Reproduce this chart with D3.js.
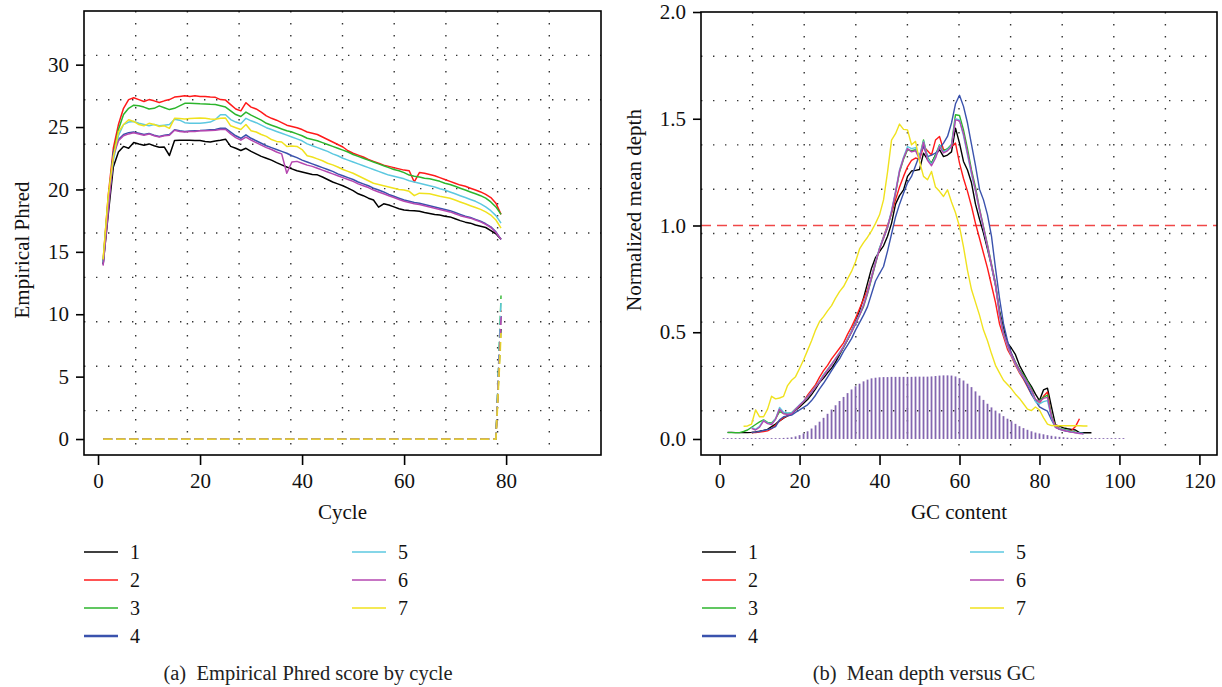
<!DOCTYPE html>
<html><head><meta charset="utf-8">
<script src="https://cdn.jsdelivr.net/npm/d3@7/dist/d3.min.js"></script>
<style>
body{margin:0;background:#fff}
svg{display:block}
</style>
</head><body>
<svg id="chart" width="1222" height="687"></svg>
<script>
// ---------------- DATA ----------------
const seriesNames = ["1","2","3","4","5","6","7"];
const seriesColors = ["#000000","#ff1a1a","#2cb52c","#3a52ad","#5cc8e0","#b547b0","#f0e21e"];

// Panel (a): Empirical Phred by cycle (cycle 1..79)
const phred1 = [14.0,18.0,21.8,23.0,23.45,23.3,23.76,23.65,23.55,23.65,
23.5,23.38,23.4,22.72,23.93,23.95,23.95,23.95,23.93,23.93,
23.85,23.8,23.88,23.95,24.03,23.45,23.3,23.12,23.3,23.05,
22.85,22.65,22.5,22.35,22.15,21.97,21.8,21.65,21.5,21.4,
21.3,21.2,21.17,21.0,20.8,20.6,20.45,20.3,20.1,19.9,
19.65,19.5,19.3,19.15,18.58,18.85,18.75,18.6,18.45,18.36,
18.32,18.3,18.25,18.15,18.08,18.0,17.95,17.85,17.8,17.65,
17.5,17.38,17.3,17.15,17.05,16.95,16.7,16.45,16.0];
const phred2 = [14.3,19.5,23.3,25.2,26.5,27.2,27.35,27.2,27.05,27.2,
27.1,26.97,27.1,27.2,27.4,27.45,27.5,27.45,27.5,27.45,
27.45,27.4,27.38,27.2,27.16,26.8,26.45,26.3,26.95,26.6,
26.45,26.2,25.9,25.7,25.55,25.35,25.15,25.05,24.95,24.8,
24.6,24.5,24.4,24.2,24.0,23.8,23.6,23.4,23.1,22.9,
22.75,22.6,22.4,22.25,22.1,21.95,21.85,21.75,21.65,21.55,
21.5,20.6,21.35,21.3,21.2,21.1,20.95,20.8,20.65,20.5,
20.35,20.25,20.1,19.95,19.8,19.6,19.35,18.9,18.0];
const phred3 = [14.2,19.2,22.8,24.8,26.0,26.5,26.75,26.7,26.6,26.45,
26.5,26.7,26.55,26.4,26.5,26.7,26.9,26.9,26.88,26.86,
26.85,26.82,26.8,26.7,26.6,26.3,26.0,25.85,26.2,25.95,
25.75,25.55,25.3,25.15,25.0,24.85,24.7,24.6,24.45,24.3,
24.1,24.0,23.9,23.75,23.6,23.45,23.3,23.15,23.0,22.8,
22.65,22.5,22.35,22.2,22.05,21.9,21.75,21.6,21.5,21.35,
21.15,21.05,21.0,20.9,20.85,20.75,20.65,20.5,20.4,20.25,
20.1,19.95,19.8,19.65,19.5,19.3,19.0,18.6,18.0];
const phred4 = [14.0,18.5,23.0,24.0,24.4,24.55,24.6,24.5,24.4,24.48,
24.35,24.25,24.35,24.4,24.78,24.7,24.65,24.68,24.7,24.72,
24.75,24.78,24.8,24.9,24.9,24.6,24.3,24.1,24.38,24.1,
23.9,23.7,23.5,23.35,23.2,23.05,22.9,22.7,22.55,22.35,
22.2,22.05,21.9,21.75,21.6,21.45,21.25,21.1,20.95,20.8,
20.6,20.45,20.3,20.1,19.95,19.8,19.6,19.45,19.3,19.15,
19.05,18.95,18.9,18.8,18.7,18.6,18.5,18.4,18.3,18.15,
18.0,17.85,17.75,17.6,17.45,17.25,17.0,16.6,16.0];
const phred5 = [14.2,19.0,22.3,24.3,25.2,25.4,25.45,25.3,25.2,25.1,
25.2,25.1,25.15,25.2,25.63,25.55,25.35,25.3,25.3,25.3,
25.35,25.4,25.6,25.98,25.98,25.6,25.4,25.26,25.7,25.5,
25.35,25.15,24.95,24.8,24.65,24.5,24.35,24.2,24.05,23.9,
23.65,23.5,23.35,23.2,23.05,22.85,22.7,22.5,22.35,22.2,
22.05,21.9,21.75,21.6,21.45,21.3,21.15,21.05,20.95,20.85,
20.7,20.6,20.5,20.4,20.3,20.2,20.05,19.95,19.8,19.65,
19.5,19.35,19.2,19.05,18.85,18.6,18.3,17.9,17.3];
const phred6 = [13.9,18.3,22.7,23.9,24.3,24.45,24.55,24.45,24.35,24.45,
24.3,24.2,24.3,24.35,24.75,24.65,24.6,24.65,24.65,24.7,
24.7,24.72,24.75,24.8,24.8,24.45,24.15,23.95,24.2,23.95,
23.75,23.55,23.35,23.2,23.0,22.85,21.3,22.2,22.25,22.1,
21.95,21.85,21.7,21.55,21.4,21.25,21.1,20.95,20.8,20.65,
20.45,20.3,20.15,19.95,19.8,19.65,19.5,19.35,19.2,19.05,
18.95,18.85,18.8,18.7,18.6,18.5,18.4,18.3,18.2,18.05,
17.9,17.8,17.7,17.55,17.4,17.2,16.95,16.55,16.0];
const phred7 = [14.4,19.5,22.6,24.6,25.2,25.58,25.45,25.2,25.1,25.3,
25.2,25.05,25.1,24.9,25.7,25.68,25.65,25.68,25.7,25.72,
25.7,25.65,25.62,25.7,25.72,25.1,24.95,24.8,25.2,24.7,
24.6,24.4,24.25,24.0,23.85,23.8,23.45,23.48,23.45,23.2,
22.7,22.6,22.45,22.3,22.1,21.97,21.8,21.6,21.45,21.3,
21.1,20.9,20.7,20.5,20.4,20.3,20.2,20.1,20.0,19.95,
19.85,19.5,19.7,19.68,19.65,19.55,19.45,19.38,19.3,19.15,
19.0,18.85,18.7,18.55,18.4,18.2,17.95,17.55,16.9];
// dashed companion series: 0 for cycles 1..78, then these values at cycle 79
const dashedLastCycle = 79;
const dashedEndValues = [9.0,10.3,11.5,10.0,11.2,9.8,8.5];

// Panel (b): normalized mean depth vs GC content
const depthStart = [2,8,2,8,8,8,6];
const depth1 = [0.031,0.031,0.030,0.030,0.030,0.030,0.031,0.033,0.036,0.040,
0.045,0.058,0.070,0.085,0.098,0.108,0.118,0.135,0.150,0.168,
0.185,0.208,0.235,0.265,0.285,0.310,0.332,0.360,0.395,0.430,
0.465,0.505,0.550,0.600,0.660,0.730,0.800,0.850,0.878,0.905,
0.950,1.010,1.100,1.140,1.167,1.230,1.255,1.258,1.262,1.339,
1.310,1.292,1.330,1.355,1.323,1.330,1.345,1.456,1.386,1.300,
1.260,1.200,1.100,1.030,0.964,0.890,0.810,0.720,0.600,0.520,
0.450,0.425,0.395,0.345,0.310,0.275,0.245,0.210,0.180,0.230,
0.238,0.150,0.066,0.060,0.052,0.048,0.045,0.042,0.030,0.029,
0.029,0.029];
const depth2 = [0.030,0.030,0.032,0.035,0.038,0.048,0.065,0.085,0.100,0.108,
0.120,0.140,0.155,0.175,0.205,0.230,0.255,0.290,0.320,0.345,
0.375,0.400,0.425,0.450,0.490,0.525,0.565,0.610,0.655,0.700,
0.760,0.830,0.890,0.948,1.000,1.057,1.120,1.180,1.230,1.275,
1.305,1.316,1.310,1.370,1.350,1.330,1.400,1.417,1.355,1.355,
1.370,1.386,1.292,1.220,1.160,1.090,1.010,0.940,0.870,0.800,
0.720,0.640,0.540,0.480,0.420,0.385,0.345,0.310,0.280,0.245,
0.210,0.180,0.165,0.200,0.220,0.100,0.065,0.050,0.042,0.038,
0.040,0.058,0.095];
const depth3 = [0.030,0.030,0.030,0.030,0.035,0.042,0.055,0.068,0.080,0.090,
0.078,0.075,0.095,0.128,0.120,0.120,0.123,0.140,0.158,0.175,
0.195,0.218,0.245,0.270,0.300,0.325,0.350,0.375,0.400,0.430,
0.465,0.500,0.540,0.580,0.620,0.680,0.750,0.820,0.893,0.940,
0.990,1.060,1.150,1.250,1.310,1.355,1.350,1.355,1.320,1.401,
1.320,1.290,1.330,1.378,1.350,1.360,1.380,1.519,1.515,1.448,
1.360,1.260,1.180,1.080,0.995,0.910,0.820,0.730,0.590,0.500,
0.445,0.400,0.360,0.325,0.300,0.270,0.235,0.180,0.180,0.195,
0.205,0.110,0.058,0.050,0.045,0.040,0.036,0.032,0.028,0.026];
const depth4 = [0.031,0.032,0.035,0.040,0.044,0.050,0.058,0.090,0.104,0.108,
0.112,0.125,0.136,0.148,0.160,0.180,0.205,0.235,0.261,0.290,
0.320,0.350,0.375,0.410,0.440,0.470,0.510,0.545,0.580,0.620,
0.680,0.740,0.775,0.808,0.880,0.960,1.040,1.100,1.151,1.200,
1.230,1.280,1.330,1.370,1.323,1.330,1.339,1.360,1.386,1.417,
1.480,1.570,1.610,1.558,1.480,1.380,1.280,1.170,1.120,1.050,
0.950,0.800,0.660,0.540,0.460,0.400,0.355,0.320,0.285,0.250,
0.210,0.180,0.150,0.140,0.130,0.090,0.055,0.045,0.040,0.036,
0.032,0.030,0.028,0.026];
const depth5 = [0.055,0.045,0.060,0.088,0.075,0.070,0.095,0.148,0.125,0.122,
0.122,0.140,0.160,0.178,0.198,0.220,0.245,0.270,0.300,0.325,
0.350,0.378,0.405,0.435,0.470,0.505,0.545,0.585,0.630,0.690,
0.760,0.830,0.895,0.945,0.995,1.070,1.160,1.260,1.320,1.370,
1.360,1.365,1.320,1.395,1.315,1.285,1.320,1.375,1.345,1.355,
1.375,1.500,1.495,1.420,1.330,1.240,1.160,1.070,0.985,0.900,
0.810,0.720,0.580,0.490,0.435,0.390,0.350,0.315,0.290,0.260,
0.225,0.175,0.165,0.175,0.180,0.100,0.055,0.048,0.043,0.038,
0.034,0.030,0.027,0.025];
const depth6 = [0.050,0.042,0.055,0.085,0.072,0.068,0.092,0.140,0.118,0.115,
0.118,0.138,0.158,0.176,0.196,0.218,0.243,0.268,0.296,0.322,
0.348,0.375,0.402,0.432,0.466,0.500,0.540,0.580,0.625,0.685,
0.755,0.825,0.890,0.940,0.990,1.065,1.155,1.255,1.315,1.360,
1.345,1.350,1.310,1.390,1.305,1.280,1.315,1.370,1.340,1.350,
1.370,1.495,1.490,1.430,1.340,1.250,1.165,1.075,0.990,0.905,
0.815,0.725,0.585,0.495,0.440,0.395,0.355,0.320,0.292,0.262,
0.228,0.185,0.175,0.190,0.195,0.105,0.055,0.046,0.041,0.036,
0.032,0.029,0.026,0.024];
const depth7 = [0.060,0.061,0.070,0.136,0.104,0.104,0.140,0.200,0.188,0.192,
0.200,0.250,0.275,0.292,0.330,0.370,0.415,0.460,0.510,0.550,
0.573,0.600,0.625,0.660,0.690,0.714,0.750,0.785,0.830,0.890,
0.920,0.945,0.975,1.010,1.050,1.120,1.250,1.400,1.430,1.475,
1.450,1.448,1.378,1.394,1.300,1.230,1.214,1.253,1.180,1.160,
1.136,1.167,1.110,1.060,0.995,0.900,0.790,0.700,0.640,0.580,
0.510,0.460,0.400,0.345,0.310,0.275,0.255,0.235,0.210,0.190,
0.165,0.140,0.133,0.150,0.136,0.100,0.070,0.063,0.062,0.062,
0.062,0.062,0.062,0.062,0.062,0.061,0.061];
// GC distribution histogram, GC 1..101
const gcHist = [0.004,0.004,0.004,0.004,0.004,0.004,0.004,0.004,0.004,0.004,
0.004,0.004,0.004,0.004,0.004,0.005,0.006,0.008,0.012,0.018,
0.026,0.036,0.049,0.064,0.081,0.099,0.118,0.138,0.158,0.178,
0.197,0.215,0.232,0.247,0.259,0.270,0.278,0.284,0.287,0.289,
0.290,0.290,0.291,0.291,0.291,0.291,0.291,0.291,0.292,0.292,
0.292,0.292,0.293,0.295,0.297,0.298,0.298,0.297,0.293,0.285,
0.274,0.259,0.243,0.223,0.203,0.183,0.165,0.148,0.133,0.120,
0.107,0.095,0.083,0.071,0.060,0.051,0.043,0.036,0.030,0.026,
0.022,0.018,0.015,0.012,0.010,0.008,0.006,0.005,0.004,0.004,
0.004,0.004,0.004,0.004,0.004,0.004,0.004,0.004,0.004,0.004,0.004];
const depthRefLine = 1.0;

// Axis ticks / limits / labels
const xTicksA = [0,20,40,60,80];
const yTicksA = [0,5,10,15,20,25,30];
const xLimA = [-2.75, 98.6];
const yLimA = [-1.28, 34.3];
const xTicksB = [0,20,40,60,80,100,120];
const yTicksB = [0,0.5,1.0,1.5,2.0];
const xLimB = [-4.65, 124.4];
const yLimB = [-0.075, 2.0];
const titlesA = {x:"Cycle", y:"Empirical Phred", caption:"(a)\u00a0\u00a0Empirical Phred score by cycle"};
const titlesB = {x:"GC content", y:"Normalized mean depth", caption:"(b)\u00a0\u00a0Mean depth versus GC"};

// ---------------- DRAW ----------------
const FONT = "'Liberation Serif','DejaVu Serif',serif";
const svg = d3.select("#chart");
svg.append("rect").attr("width",1222).attr("height",687).attr("fill","#fff");

function drawPanel(cfg){
  const {frame, xLim, yLim, xTicks, yTicks, yFmt} = cfg;
  const x = d3.scaleLinear().domain(xLim).range([frame.x0, frame.x1]);
  const y = d3.scaleLinear().domain(yLim).range([frame.y1, frame.y0]);
  const g = svg.append("g");
  const grid = g.append("g").attr("stroke","#333").attr("stroke-width",1.4)
    .attr("stroke-dasharray","1.4,10.6");
  for (let i=1;i<10;i++){
    const gx = frame.x0 + i*(frame.x1-frame.x0)/10;
    const gy = frame.y0 + i*(frame.y1-frame.y0)/10;
    grid.append("line").attr("x1",gx).attr("x2",gx).attr("y1",frame.y0).attr("y2",frame.y1);
    grid.append("line").attr("y1",gy).attr("y2",gy).attr("x1",frame.x0).attr("x2",frame.x1);
  }
  const ax = g.append("g").attr("transform",`translate(0,${frame.y1})`)
    .call(d3.axisBottom(x).tickValues(xTicks).tickSize(10).tickPadding(8).tickFormat(d3.format("d")));
  const ay = g.append("g").attr("transform",`translate(${frame.x0},0)`)
    .call(d3.axisLeft(y).tickValues(yTicks).tickSize(8).tickPadding(7).tickFormat(yFmt));
  [ax,ay].forEach(a=>{
    a.select(".domain").remove();
    a.selectAll("line").attr("stroke","#000").attr("stroke-width",1.6);
    a.selectAll("text").attr("font-family",FONT).attr("font-size",21).attr("fill","#111");
  });
  return {g,x,y};
}

function frameBox(g, frame){
  g.append("rect").attr("x",frame.x0).attr("y",frame.y0)
    .attr("width",frame.x1-frame.x0).attr("height",frame.y1-frame.y0)
    .attr("fill","none").attr("stroke","#000").attr("stroke-width",1.6);
}

function titles(g, frame, t, yTitlePos, capX){
  g.append("text").attr("x",(frame.x0+frame.x1)/2).attr("y",519)
    .attr("text-anchor","middle").attr("font-family",FONT).attr("font-size",21).attr("fill","#111").text(t.x);
  g.append("text").attr("transform",`translate(${yTitlePos[0]},${yTitlePos[1]}) rotate(-90)`)
    .attr("text-anchor","middle").attr("font-family",FONT).attr("font-size",21).attr("fill","#111").text(t.y);
  g.append("text").attr("x",capX).attr("y",680)
    .attr("text-anchor","middle").attr("font-family",FONT).attr("font-size",20.5).attr("fill","#222").text(t.caption);
}

function legend(g, col1x, col2x){
  const rows = [552,580,608,636];
  seriesNames.forEach((n,i)=>{
    const cx = i<4 ? col1x : col2x;
    const ry = i<4 ? rows[i] : rows[i-4];
    g.append("line").attr("x1",cx).attr("x2",cx+34).attr("y1",ry).attr("y2",ry)
      .attr("stroke",seriesColors[i]).attr("stroke-width", i===3?2.6:1.6);
    g.append("text").attr("x",cx+46).attr("y",ry).attr("dy","0.33em")
      .attr("font-family",FONT).attr("font-size",20).attr("fill","#111").text(n);
  });
}

// ---- Panel A ----
const frameA = {x0:84, x1:601, y0:11, y1:455};
const A = drawPanel({frame:frameA, xLim:xLimA, yLim:yLimA, xTicks:xTicksA, yTicks:yTicksA, yFmt:d3.format("d")});
const phredSeries = [phred1,phred2,phred3,phred4,phred5,phred6,phred7];
const lineA = d3.line().x(d=>A.x(d[0])).y(d=>A.y(d[1]));
phredSeries.forEach((s,i)=>{
  const pts = s.map((v,k)=>[k+1, k+1===dashedLastCycle ? dashedEndValues[i] : 0]);
  A.g.append("path").attr("d",lineA(pts)).attr("fill","none")
    .attr("stroke",seriesColors[i]).attr("stroke-width",i===6?1.8:1.4)
    .attr("stroke-dasharray","9,4").attr("opacity",i===6?0.85:1);
});
phredSeries.forEach((s,i)=>{
  const pts = s.map((v,k)=>[k+1,v]);
  A.g.append("path").attr("d",lineA(pts)).attr("fill","none")
    .attr("stroke",seriesColors[i]).attr("stroke-width",1.5).attr("stroke-linejoin","round");
});
frameBox(A.g, frameA);
titles(A.g, frameA, titlesA, [29,250], 308);
legend(A.g, 84, 352);

// ---- Panel B ----
const frameB = {x0:701, x1:1217, y0:12, y1:455};
const B = drawPanel({frame:frameB, xLim:xLimB, yLim:yLimB, xTicks:xTicksB, yTicks:yTicksB, yFmt:d3.format(".1f")});
B.g.append("g").selectAll("line").data(gcHist).join("line")
  .attr("x1",(d,k)=>B.x(k+1)).attr("x2",(d,k)=>B.x(k+1))
  .attr("y1",B.y(0)).attr("y2",d=>B.y(d))
  .attr("stroke","#8466b0").attr("stroke-width",1.8);
B.g.append("line").attr("x1",frameB.x0).attr("x2",frameB.x1)
  .attr("y1",B.y(depthRefLine)).attr("y2",B.y(depthRefLine))
  .attr("stroke","#f04848").attr("stroke-width",1.7).attr("stroke-dasharray","10,6");
const depthSeries = [depth1,depth2,depth3,depth4,depth5,depth6,depth7];
const lineB = d3.line().x(d=>B.x(d[0])).y(d=>B.y(d[1]));
depthSeries.forEach((s,i)=>{
  const pts = s.map((v,k)=>[depthStart[i]+k, v]);
  B.g.append("path").attr("d",lineB(pts)).attr("fill","none")
    .attr("stroke",seriesColors[i]).attr("stroke-width",1.4).attr("stroke-linejoin","round");
});
frameBox(B.g, frameB);
titles(B.g, frameB, titlesB, [641,210], 924);
legend(B.g, 702, 970);
</script>
</body></html>
